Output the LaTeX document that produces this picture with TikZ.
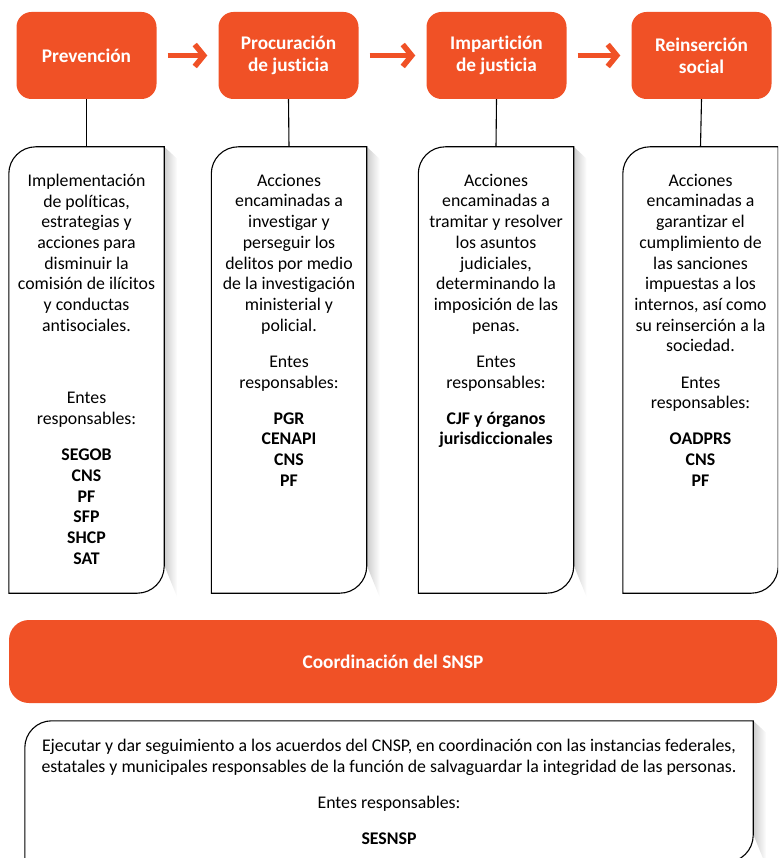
\documentclass[tikz,border=0pt]{standalone}
\usepackage{fontspec}
\setmainfont{Carlito}[Ligatures=NoCommon]
\usetikzlibrary{arrows.meta}
\definecolor{naranja}{RGB}{240,81,38}
\tikzset{
  etapa/.style={fill=naranja, rounded corners=15pt, minimum width=140pt, minimum height=87pt,
    text=white, align=center, font=\fontsize{19.3}{22}\selectfont\bfseries},
  caja/.style={minimum width=155pt, minimum height=446pt, inner sep=0pt},
  texto/.style={align=center, inner sep=0pt, font=\fontsize{17.8}{20.7}\selectfont},
  flecha/.style={naranja, line width=5.5pt, -{Straight Barb[length=9pt,width=22pt]},
    shorten <=11pt, shorten >=11pt},
  enlace/.style={line width=1.1pt},
  sombra/.style={left color=black!20, right color=white, draw=none}
}
\begin{document}
\begin{tikzpicture}[x=1pt,y=1pt]
\useasboundingbox (0,0) rectangle (778,-858);
\clip (0,0) rectangle (778,-858);

\node[etapa] (t1) at (86.5,-55.5) {Prevención};
\node[etapa] (t2) at (288.5,-55.5) {Procuración\\de justicia};
\node[etapa] (t3) at (496.5,-55.5) {Impartición\\de justicia};
\node[etapa] (t4) at (701.5,-55.5) {Reinserción\\social};

\draw[flecha] (t1) -- (t2);
\draw[flecha] (t2) -- (t3);
\draw[flecha] (t3) -- (t4);

\node[caja] (p1) at (86.5,-370) {};
\node[caja] (p2) at (289,-370) {};
\node[caja] (p3) at (496,-370) {};
\node[caja] (p4) at (700.5,-370) {};

\shade[sombra] (p1.north east) -- ++(13,-12) -- ([shift={(13,-4)}]p1.south east) -- ([yshift=28pt]p1.south east) -- cycle;
\shade[sombra] (p2.north east) -- ++(13,-12) -- ([shift={(13,-4)}]p2.south east) -- ([yshift=28pt]p2.south east) -- cycle;
\shade[sombra] (p3.north east) -- ++(13,-12) -- ([shift={(13,-4)}]p3.south east) -- ([yshift=28pt]p3.south east) -- cycle;
\shade[sombra] (p4.north east) -- ++(13,-12) -- ([shift={(13,-4)}]p4.south east) -- ([yshift=28pt]p4.south east) -- cycle;

\draw[enlace] (p1.south west) -- ([yshift=-27pt]p1.north west) arc[start angle=180,end angle=90,radius=27pt] -- (p1.north east) -- ([yshift=27pt]p1.south east) arc[start angle=0,end angle=-90,radius=27pt] -- cycle;
\draw[enlace] (p2.south west) -- ([yshift=-27pt]p2.north west) arc[start angle=180,end angle=90,radius=27pt] -- (p2.north east) -- ([yshift=27pt]p2.south east) arc[start angle=0,end angle=-90,radius=27pt] -- cycle;
\draw[enlace] (p3.south west) -- ([yshift=-27pt]p3.north west) arc[start angle=180,end angle=90,radius=27pt] -- (p3.north east) -- ([yshift=27pt]p3.south east) arc[start angle=0,end angle=-90,radius=27pt] -- cycle;
\draw[enlace] (p4.south west) -- ([yshift=-27pt]p4.north west) arc[start angle=180,end angle=90,radius=27pt] -- (p4.north east) -- ([yshift=27pt]p4.south east) arc[start angle=0,end angle=-90,radius=27pt] -- cycle;

\draw[enlace] (t1.south) -- (p1.north);
\draw[enlace] (t2.south) -- (p2.north);
\draw[enlace] (t3.south) -- (p3.north);
\draw[enlace] (t4.south) -- (p4.north);

\node[texto, anchor=north] (x1) at ([yshift=-27pt]p1.north) {Implementación\\de políticas,\\estrategias y\\acciones para\\disminuir la\\comisión de ilícitos\\y conductas\\antisociales.\\[52pt]
  Entes\\responsables:\\[15.5pt]\textbf{SEGOB}\\\textbf{CNS}\\\textbf{PF}\\\textbf{SFP}\\\textbf{SHCP}\\\textbf{SAT}};
\node[texto, anchor=north] (x2) at ([yshift=-27pt]p2.north) {Acciones\\encaminadas a\\investigar y\\perseguir los\\delitos por medio\\de la investigación\\ministerial y\\policial.\\[15.5pt]
  Entes\\responsables:\\[15.5pt]\textbf{PGR}\\\textbf{CENAPI}\\\textbf{CNS}\\\textbf{PF}};
\node[texto, anchor=north] (x3) at ([yshift=-27pt]p3.north) {Acciones\\encaminadas a\\tramitar y resolver\\los asuntos\\judiciales,\\determinando la\\imposición de las\\penas.\\[15.5pt]
  Entes\\responsables:\\[15.5pt]\textbf{CJF y órganos}\\\textbf{jurisdiccionales}};
\node[texto, anchor=north] (x4) at ([yshift=-27pt]p4.north) {Acciones\\encaminadas a\\garantizar el\\cumplimiento de\\las sanciones\\impuestas a los\\internos, así como\\su reinserción a la\\sociedad.\\[15.5pt]
  Entes\\responsables:\\[15.5pt]\textbf{OADPRS}\\\textbf{CNS}\\\textbf{PF}};

\node[etapa, rounded corners=20pt, minimum width=768pt, minimum height=83pt] (s1) at (393,-661.5) {Coordinación del SNSP};

\node[caja, minimum width=728pt, minimum height=141pt] (s2) at (389,-791.5) {};
\shade[sombra] (s2.north east) -- ++(13,-12) -- ([shift={(13,-4)}]s2.south east) -- ([yshift=28pt]s2.south east) -- cycle;
\draw[enlace] (s2.south west) -- ([yshift=-27pt]s2.north west) arc[start angle=180,end angle=90,radius=27pt] -- (s2.north east) -- ([yshift=27pt]s2.south east) arc[start angle=0,end angle=-90,radius=27pt] -- cycle;
\node[texto, anchor=north] (x5) at ([yshift=-18pt]s2.north) {Ejecutar y dar seguimiento a los acuerdos del CNSP, en coordinación con las instancias federales,\\estatales y municipales responsables de la función de salvaguardar la integridad de las personas.\\[15.5pt]
  Entes responsables:\\[15.5pt]\textbf{SESNSP}};
\end{tikzpicture}
\end{document}
